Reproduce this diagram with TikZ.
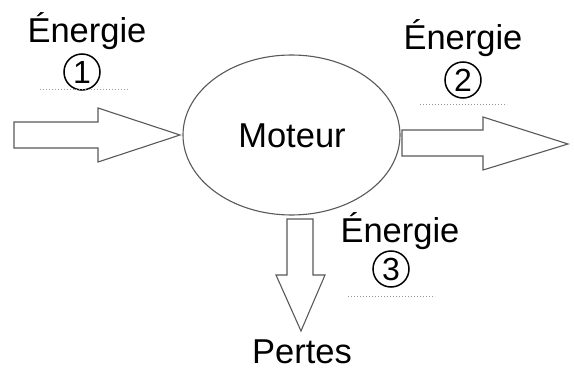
\documentclass[tikz,border=0pt]{standalone}
\usepackage{fontspec}
\setmainfont{Liberation Sans}
\usetikzlibrary{shapes.geometric}
\begin{document}
\begin{tikzpicture}[x=1pt,y=-1pt,
  lbl/.style={font=\fontsize{34.5}{40}\selectfont, anchor=base, inner sep=0pt},
  num/.style={circle, draw=black, line width=1.5pt, minimum size=36pt, inner sep=0pt, font=\fontsize{32}{36}\selectfont},
  blockarrow/.style={draw=black!65, line width=1.1pt, fill=white, line join=miter},
  dots/.style={draw=black!40, line width=1pt, dotted}]
\useasboundingbox (0,0) rectangle (574,369);
\fill[white] (0,0) rectangle (574,369);
% motor
\node[ellipse, draw=black!65, line width=1.1pt, minimum width=217pt, minimum height=160pt, inner sep=0pt] (mot) at (291.5,135) {};
\node[lbl] (motlbl) at (292,147) {Moteur};
% arrows
\draw[blockarrow] (14,122) -- (98,122) -- (98,108) -- (180,135) -- (98,162) -- (98,148) -- (14,148) -- cycle;
\draw[blockarrow] (402,130) -- (483,130) -- (483,117) -- (568,144) -- (483,170) -- (483,156) -- (402,156) -- cycle;
\draw[blockarrow] (287,219) -- (313,219) -- (313,275) -- (325,275) -- (301,331) -- (276,275) -- (287,275) -- cycle;
% labels
\node[lbl] (e1) at (87,43) {Énergie};
\node[num] (n1) at (82,72) {1};
\draw[dots] (40,90) -- (128,90);
\node[lbl] (e2) at (463,50) {Énergie};
\node[num] (n2) at (463,80) {2};
\draw[dots] (420,105) -- (507,105);
\node[lbl] (e3) at (400,243) {Énergie};
\node[num] (n3) at (391,269) {3};
\draw[dots] (348,296) -- (435,296);
\node[lbl] (pertes) at (302,363) {Pertes};
\end{tikzpicture}
\end{document}
